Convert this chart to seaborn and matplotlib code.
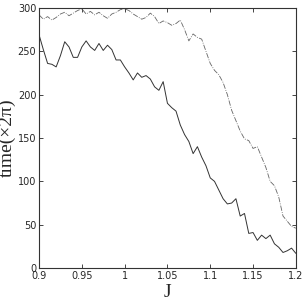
import numpy as np
import pandas as pd
import matplotlib
matplotlib.use("Agg")
import matplotlib.pyplot as plt
import seaborn as sns

# J grid (step 0.005) and the two lifetime curves
J = np.round(np.arange(0.9, 1.2001, 0.005), 3)

time_solid = [269, 252, 236, 235, 232, 245, 261, 255, 243, 243,
              255, 262, 255, 251, 259, 251, 257, 252, 240, 240,
              232, 225, 217, 225, 220, 222, 218, 209, 205, 215,
              190, 185, 181, 165, 154, 146, 132, 140, 128, 118,
              104, 100, 90, 80, 74, 75, 80, 60, 63, 40,
              41, 32, 38, 34, 38, 28, 24, 18, 20, 23, 17]

time_dashdot = [292, 287, 290, 286, 289, 293, 295, 291, 294, 297,
                299, 293, 296, 292, 295, 291, 288, 293, 295, 298,
                299, 297, 293, 290, 287, 289, 294, 290, 282, 285,
                283, 280, 282, 286, 275, 262, 270, 266, 264, 250,
                236, 228, 223, 214, 200, 182, 170, 158, 149, 147,
                138, 140, 128, 116, 100, 95, 82, 60, 54, 48, 46]

x_ticks = [0.9, 0.95, 1, 1.05, 1.1, 1.15, 1.2]
x_ticklabels = ["0.9", "0.95", "1", "1.05", "1.1", "1.15", "1.2"]
y_ticks = [0, 50, 100, 150, 200, 250, 300]

df = pd.DataFrame({"J": J, "solid": time_solid, "dashdot": time_dashdot})

sns.set_style("ticks")
plt.rcParams["font.family"] = ["Liberation Sans Narrow", "DejaVu Sans"]

fig = plt.figure(figsize=(3.05, 3.05), dpi=100)
ax = fig.add_axes([0.128, 0.121, 0.842, 0.853])

sns.lineplot(data=df, x="J", y="solid", ax=ax, color="#333333", lw=0.7)
sns.lineplot(data=df, x="J", y="dashdot", ax=ax, color="#666666", lw=0.6,
             linestyle="-.")

ax.set_xlim(0.9, 1.2)
ax.set_ylim(0, 300)
ax.set_xticks(x_ticks)
ax.set_xticklabels(x_ticklabels)
ax.set_yticks(y_ticks)
ax.tick_params(direction="in", length=3, width=0.6, labelsize=7,
               top=True, right=True, pad=2)
for s in ax.spines.values():
    s.set_linewidth(0.8)
    s.set_color("#333333")

ax.set_xlabel("J", family=["Liberation Serif"], fontsize=14, labelpad=2)
ax.set_ylabel("time(×2π)", family=["Liberation Serif", "DejaVu Serif"],
              fontsize=14, labelpad=1)

fig.savefig("out.png", dpi=100)
